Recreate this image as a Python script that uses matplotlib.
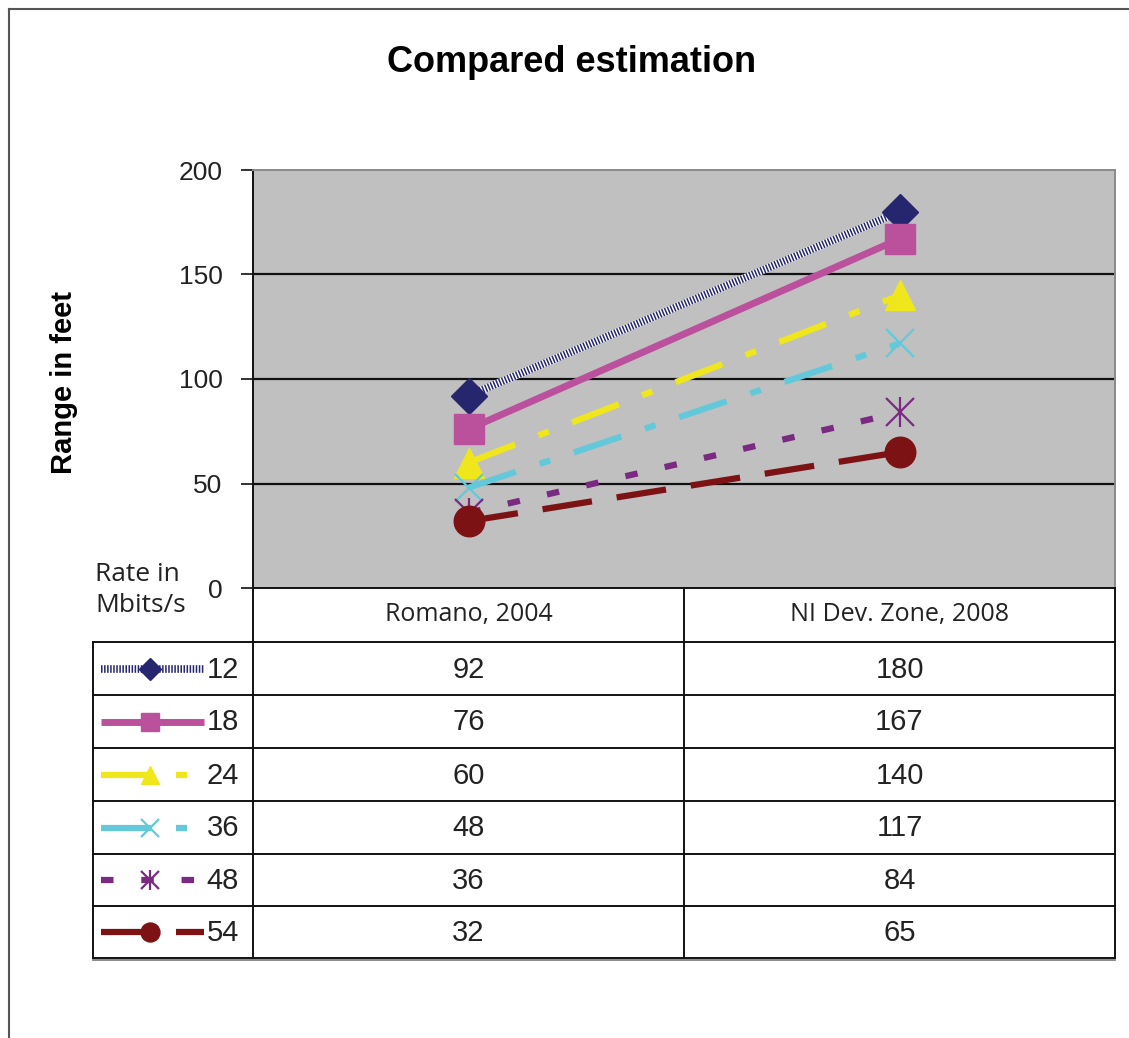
import matplotlib
matplotlib.use("Agg")
import matplotlib.pyplot as plt

plt.rcParams["font.family"] = ["Liberation Sans", "DejaVu Sans"]
plt.rcParams["lines.scale_dashes"] = False

W, H = 1129, 1038

sources = ["Romano, 2004", "NI Dev. Zone, 2008"]
rates = ["12", "18", "24", "36", "48", "54"]
ranges = [
    [92, 180],
    [76, 167],
    [60, 140],
    [48, 117],
    [36, 84],
    [32, 65],
]
colors = ["#26266f", "#bb519c", "#efe61b", "#63c9da", "#7b2a82", "#7d1214"]
markers = ["D", "s", "^", "x", "x", "o"]
marker_sizes = [18, 21, 22, 20, 20, 22]
dash_styles = [
    "-",
    "-",
    (0, (36, 18, 8, 18)),
    (0, (36, 18, 8, 18)),
    (0, (9, 20)),
    (0, (36, 18)),
]
line_widths = [5.5, 5, 4.5, 4.5, 4.5, 4.5]

# pixel geometry of the plot area and the data table beneath it
plot_left, plot_right = 253, 1115
plot_top, plot_bottom = 170, 588
key_left = 93
col_split = 684
row_edges = [642, 695, 748, 801, 854, 906, 958]

fig = plt.figure(figsize=(W / 100, H / 100), dpi=100)
fig.patch.set_facecolor("white")

ax = fig.add_axes([
    plot_left / W,
    1 - plot_bottom / H,
    (plot_right - plot_left) / W,
    (plot_bottom - plot_top) / H,
])
ax.set_facecolor("#c0c0c0")
ax.set_xlim(-0.5, len(sources) - 0.5)
ax.set_ylim(0, 200)
ax.set_yticks([0, 50, 100, 150, 200])
ax.set_xticks([])
ax.tick_params(axis="y", length=9, width=1.3, labelsize=19, pad=13, colors="#222222")
for y in [50, 100, 150]:
    ax.axhline(y, color="#111111", lw=1.6, zorder=1)
ax.spines["top"].set_color("#8a8a8a")
ax.spines["right"].set_color("#8a8a8a")
ax.spines["left"].set_color("#111111")
ax.spines["bottom"].set_color("#111111")
for s in ax.spines.values():
    s.set_linewidth(1.4)

xs = list(range(len(sources)))


def draw_series(target, x, y, i, marker_at=None, scale=1.0):
    if i == 0:
        # checkered navy stroke: white base with a fine navy dot pattern
        target.plot(x, y, color="white", lw=line_widths[i], solid_capstyle="butt", zorder=3)
        target.plot(x, y, color=colors[i], lw=line_widths[i], ls=(0, (1.1, 1.1)),
                    dash_capstyle="butt", zorder=3)
    else:
        target.plot(x, y, color=colors[i], lw=line_widths[i], ls=dash_styles[i],
                    dash_capstyle="butt", solid_capstyle="butt", zorder=3)
    mx, my = (x, y) if marker_at is None else marker_at
    ms = marker_sizes[i] * scale
    if i == 4:
        target.plot(mx, my, marker="x", ms=ms, mew=1.6, color=colors[i],
                    ls="none", zorder=4)
        target.plot(mx, my, marker="|", ms=ms + 2, mew=1.6, color=colors[i],
                    ls="none", zorder=4)
    elif i == 3:
        target.plot(mx, my, marker="x", ms=ms, mew=1.6, color=colors[i],
                    ls="none", zorder=4)
    else:
        target.plot(mx, my, marker=markers[i], ms=ms, color=colors[i],
                    mec=colors[i], ls="none", zorder=4)


for i in range(len(rates)):
    draw_series(ax, xs, ranges[i], i)

# overlay in pixel coordinates for the frame, labels and table
ov = fig.add_axes([0, 0, 1, 1], facecolor="none")
ov.set_xlim(0, W)
ov.set_ylim(H, 0)
ov.axis("off")

ov.plot([9, 9], [9, H], color="#555555", lw=1.5)
ov.plot([9, W], [9, 9], color="#555555", lw=1.5)

ov.text(572, 63, "Compared estimation", ha="center", va="center",
        fontsize=26, fontweight="bold", color="black")
ov.text(64, 383, "Range in feet", ha="center", va="center", rotation=90,
        fontsize=21, fontweight="bold", color="black")
ov.text(95, 590, "Rate in\nMbits/s", ha="left", va="center", fontsize=19,
        family=["Open Sans", "DejaVu Sans"], color="#222222", linespacing=1.3)

line_kw = dict(color="#111111", lw=1.4, zorder=5)
ov.plot([plot_left, plot_left], [plot_bottom, row_edges[-1]], **line_kw)
ov.plot([col_split, col_split], [plot_bottom, row_edges[-1]], **line_kw)
ov.plot([plot_right, plot_right], [plot_bottom, row_edges[-1]], **line_kw)
ov.plot([key_left, key_left], [row_edges[0], row_edges[-1]], **line_kw)
for y in row_edges:
    ov.plot([key_left, plot_right], [y, y], **line_kw)
ov.plot([key_left, plot_right], [row_edges[-1] + 1.5, row_edges[-1] + 1.5],
        color="#777777", lw=1.2, zorder=5)

col_centers = [(plot_left + col_split) / 2, (col_split + plot_right) / 2]
for c, name in zip(col_centers, sources):
    ov.text(c, 614, name, ha="center", va="center", fontsize=18,
            family=["Open Sans", "DejaVu Sans"], color="#222222")

for i, rate in enumerate(rates):
    yc = (row_edges[i] + row_edges[i + 1]) / 2
    draw_series(ov, [101, 204], [yc, yc], i, marker_at=([150], [yc]), scale=0.62)
    ov.text(239, yc + 1, rate, ha="right", va="center", fontsize=21, color="#222222")
    for c, v in zip(col_centers, ranges[i]):
        ov.text(c, yc + 1, str(v), ha="center", va="center", fontsize=21, color="#222222")

fig.savefig("out.png", dpi=100)
